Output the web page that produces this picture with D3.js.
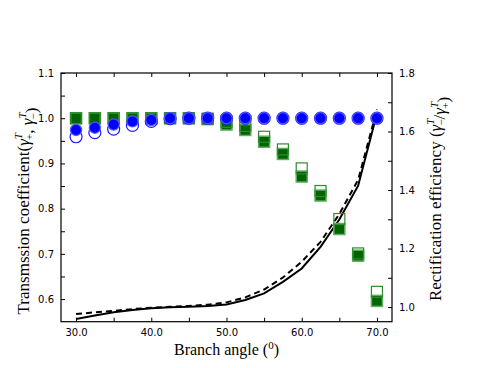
<!DOCTYPE html>
<html><head><meta charset="utf-8">
<script src="https://cdn.jsdelivr.net/npm/d3@7"></script>
<style>body{margin:0;background:#fff}svg{display:block}</style>
</head><body>
<script>
const angles = [30,32.5,35,37.5,40,42.5,45,47.5,50,52.5,55,57.5,60,62.5,65,67.5,70];
const greenFilled = [1.0,1.0,1.0,1.0,1.0,1.0,1.0,0.998,0.986,0.974,0.948,0.921,0.871,0.829,0.755,0.696,0.596];
const greenOpen   = [1.0,1.0,1.0,1.0,1.0,1.0,1.0,0.999,0.992,0.983,0.959,0.931,0.889,0.839,0.777,0.701,0.616];
const blueFilled  = [0.974,0.979,0.986,0.993,0.996,1.0,1.0,1.0,1.0,1.0,1.0,1.0,1.0,1.0,1.0,1.0,1.0];
const blueOpen    = [0.959,0.968,0.976,0.984,0.993,0.999,1.0,1.0,1.0,1.0,1.0,1.0,1.0,1.0,1.0,1.0,1.0];
const rectSolid   = [0.959,0.971,0.982,0.990,0.996,0.999,1.001,1.004,1.009,1.024,1.047,1.086,1.132,1.206,1.299,1.415,1.662];
const rectDashed  = [0.976,0.982,0.987,0.993,0.998,1.001,1.004,1.008,1.016,1.033,1.060,1.101,1.155,1.223,1.318,1.435,1.675];
const xTicks = [30,35,40,45,50,55,60,65,70];
const xLabels = [30,40,50,60,70];
const yLeftTicks = [0.6,0.65,0.7,0.75,0.8,0.85,0.9,0.95,1.0,1.05,1.1];
const yLeftLabels = [0.6,0.7,0.8,0.9,1.0,1.1];
const yRightTicks = [1.0,1.1,1.2,1.3,1.4,1.5,1.6,1.7,1.8];
const yRightLabels = [1.0,1.2,1.4,1.6,1.8];

const W=491,H=368;
const L=61,R=392,T=73,B=321.7;
const svg=d3.select("body").append("svg").attr("width",W).attr("height",H);
const x=d3.scaleLinear().domain([28,72]).range([L,R]);
const yL=d3.scaleLinear().domain([0.55,1.1]).range([B,T]);
const yR=d3.scaleLinear().domain([0.95,1.8]).range([B,T]);
const tickFont="DejaVu Sans", tickSize=10;

const g=svg.append("g");
function fmt1(v){return v.toFixed(1);}
const axB=d3.axisBottom(x).tickValues(xTicks).tickSize(-4).tickPadding(7).tickFormat(d=>xLabels.includes(d)?fmt1(d):"");
const axT=d3.axisTop(x).tickValues(xTicks).tickSize(-4).tickFormat("");
const axL=d3.axisLeft(yL).tickValues(yLeftTicks).tickSize(-4).tickPadding(7).tickFormat(d=>yLeftLabels.some(v=>Math.abs(v-d)<1e-9)?fmt1(d):"");
const axR=d3.axisRight(yR).tickValues(yRightTicks).tickSize(-4).tickPadding(7).tickFormat(d=>yRightLabels.some(v=>Math.abs(v-d)<1e-9)?fmt1(d):"");
function style(sel){sel.select(".domain").remove();sel.selectAll("line").attr("stroke","#000").attr("stroke-width",1);
 sel.selectAll("text").attr("font-family",tickFont).attr("font-size",tickSize).attr("fill","#000");}
g.append("g").attr("transform",`translate(0,${B})`).call(axB).call(style);
g.append("g").attr("transform",`translate(0,${T})`).call(axT).call(style);
g.append("g").attr("transform",`translate(${L},0)`).call(axL).call(style);
g.append("g").attr("transform",`translate(${R},0)`).call(axR).call(style);

const plot=svg.append("g");
const data=angles.map((a,i)=>({a,gf:greenFilled[i],go:greenOpen[i],bf:blueFilled[i],bo:blueOpen[i],rs:rectSolid[i],rd:rectDashed[i]}));
svg.append("clipPath").attr("id","c").append("rect").attr("x",L).attr("y",T).attr("width",R-L).attr("height",B-T);
const lines=plot.append("g").attr("clip-path","url(#c)");
lines.append("path").datum(data).attr("d",d3.line().x(d=>x(d.a)).y(d=>yR(d.rs))).attr("fill","none").attr("stroke","#000").attr("stroke-width",2);
lines.append("path").datum(data).attr("d",d3.line().x(d=>x(d.a)).y(d=>yR(d.rd))).attr("fill","none").attr("stroke","#000").attr("stroke-width",2).attr("stroke-dasharray","6,4");

const s=11;
plot.selectAll(".gf").data(data).join("rect").attr("x",d=>x(d.a)-s/2).attr("y",d=>yL(d.gf)-s/2).attr("width",s).attr("height",s)
 .attr("fill","#006400").attr("stroke","#5fae5f").attr("stroke-width",1.5);
plot.selectAll(".go").data(data).join("rect").attr("x",d=>x(d.a)-s/2).attr("y",d=>yL(d.go)-s/2).attr("width",s).attr("height",s)
 .attr("fill","none").attr("stroke","#2e8b2e").attr("stroke-width",1.2);
plot.selectAll(".bo").data(data).join("circle").attr("cx",d=>x(d.a)).attr("cy",d=>yL(d.bo)).attr("r",6)
 .attr("fill","none").attr("stroke","#1a1aff").attr("stroke-width",1.2);
plot.selectAll(".bf").data(data).join("circle").attr("cx",d=>x(d.a)).attr("cy",d=>yL(d.bf)).attr("r",5.6)
 .attr("fill","#0000ff").attr("stroke","#5555ff").attr("stroke-width",1.2);

svg.append("rect").attr("x",L).attr("y",T).attr("width",R-L).attr("height",B-T).attr("fill","none").attr("stroke","#000").attr("stroke-width",1.2);

const serif="Liberation Serif";
const xl=svg.append("text").attr("x",(L+R)/2).attr("y",355).attr("text-anchor","middle").attr("font-family",serif).attr("font-size",16);
xl.append("tspan").text("Branch angle (");
xl.append("tspan").attr("dy",-6).attr("font-size",11).text("0");
xl.append("tspan").attr("dy",6).text(")");

function gammaLabel(el, first, second, sep){
  function gam(sign){
    el.append("tspan").attr("font-style","italic").text("γ");
    el.append("tspan").attr("font-style","italic").attr("font-size",11).attr("dy",-7).text("T");
    el.append("tspan").attr("font-size",11).attr("dx",-7).attr("dy",11).text(sign);
    el.append("tspan").attr("dy",-4).text("");
  }
  el.append("tspan").text("(");
  gam(first);
  el.append("tspan").text(sep);
  gam(second);
  el.append("tspan").text(")");
}
const yl=svg.append("text").attr("transform","translate(29,211) rotate(-90)").attr("text-anchor","middle").attr("font-family",serif).attr("font-size",17);
yl.append("tspan").text("Transmssion coefficient");
gammaLabel(yl,"+","−",", ");

const yr=svg.append("text").attr("transform","translate(441,199) rotate(-90)").attr("text-anchor","middle").attr("font-family",serif).attr("font-size",17);
yr.append("tspan").text("Rectification efficiency ");
gammaLabel(yr,"−","+","/");
</script>
</body></html>
